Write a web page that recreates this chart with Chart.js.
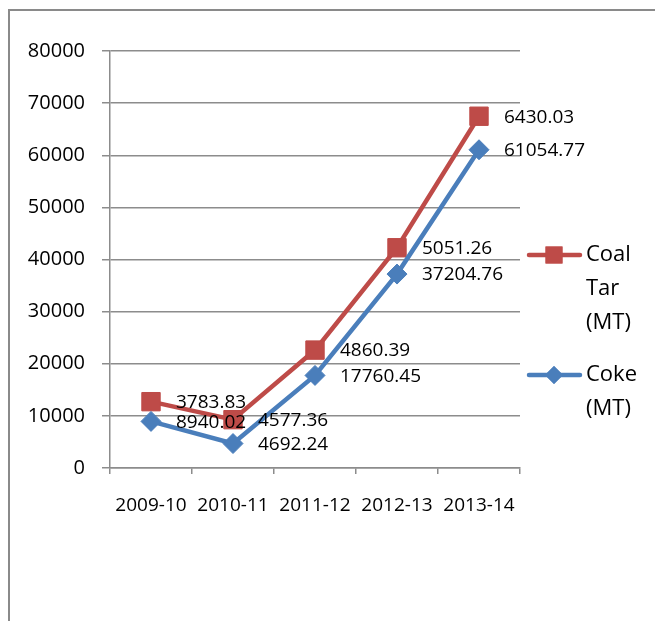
<!DOCTYPE html>
<html>
<head>
<meta charset="utf-8">
<script src="https://cdn.jsdelivr.net/npm/chart.js@4.4.1/dist/chart.umd.min.js"></script>
<style>
  html, body { margin: 0; padding: 0; background: #fff; overflow: hidden; }
  #frame { position: absolute; left: 8px; top: 9px; width: 720px; height: 720px; border: 2px solid #8a8a8a; box-sizing: border-box; }
  #myChart { position: absolute; left: 0; top: 0; }
</style>
</head>
<body>
<div id="frame"></div>
<canvas id="myChart" width="655" height="621"></canvas>
<script>
const years = ['2009-10', '2010-11', '2011-12', '2012-13', '2013-14'];
const coke = [8940.02, 4692.24, 17760.45, 37204.76, 61054.77];
const coalTar = [3783.83, 4577.36, 4860.39, 5051.26, 6430.03];
const yTicks = [0, 10000, 20000, 30000, 40000, 50000, 60000, 70000, 80000];

const FONT = "'Open Sans', 'Noto Sans', sans-serif";
const RED = '#BE4B48';
const BLUE = '#4A7EBB';
const GRID = '#8c8c8c';

// values written to the right of each point
const valueLabels = {
  id: 'valueLabels',
  afterDatasetsDraw(chart) {
    const c = chart.ctx;
    c.save();
    c.font = '19px ' + FONT;
    c.fillStyle = '#000';
    c.textAlign = 'left';
    c.textBaseline = 'middle';
    chart.data.datasets.forEach((ds, i) => {
      chart.getDatasetMeta(i).data.forEach((pt, j) => {
        c.fillText(ds.data[j].toFixed(2), pt.x + 25, pt.y + 1);
      });
    });
    c.restore();
  }
};

// legend on the right, text wrapped word by word like the original
const sideLegend = {
  id: 'sideLegend',
  afterDraw(chart) {
    const c = chart.ctx;
    const order = [1, 0];
    const rows = [255, 375];
    c.save();
    order.forEach((di, k) => {
      const ds = chart.data.datasets[di];
      const y = rows[k];
      c.strokeStyle = ds.borderColor;
      c.lineWidth = 4.5;
      c.lineCap = 'round';
      c.beginPath();
      c.moveTo(529, y);
      c.lineTo(580, y);
      c.stroke();
      c.fillStyle = ds.borderColor;
      Chart.helpers.drawPoint(c, {pointStyle: ds.pointStyle, radius: ds.pointStyle === 'rect' ? 12 : 9, borderWidth: 0}, 554, y);
      c.fill();
      c.fillStyle = '#000';
      c.font = '22px ' + FONT;
      c.textAlign = 'left';
      c.textBaseline = 'middle';
      ds.label.split(' ').forEach((w, n) => {
        c.fillText(w, 586, y + n * 34);
      });
    });
    c.restore();
  }
};

new Chart(document.getElementById('myChart'), {
  type: 'line',
  data: {
    labels: years,
    datasets: [{
      label: 'Coke (MT)',
      data: coke,
      borderColor: BLUE,
      backgroundColor: BLUE,
      borderWidth: 4.5,
      pointStyle: 'rectRot',
      pointRadius: 10,
      pointBorderWidth: 1,
      tension: 0
    }, {
      label: 'Coal Tar (MT)',
      data: coalTar,
      borderColor: RED,
      backgroundColor: RED,
      borderWidth: 4.5,
      pointStyle: 'rect',
      pointRadius: 13,
      pointBorderWidth: 1,
      tension: 0
    }]
  },
  plugins: [valueLabels, sideLegend],
  options: {
    responsive: false,
    animation: false,
    layout: { padding: { left: 0, right: 135, top: 51, bottom: 0 } },
    plugins: { legend: { display: false }, tooltip: { enabled: false } },
    scales: {
      x: {
        offset: true,
        grid: { display: true, drawOnChartArea: false, offset: true, tickLength: 6, color: GRID, lineWidth: 1.5 },
        border: { color: GRID, width: 1.5 },
        ticks: { color: '#000', font: { size: 19, family: FONT }, padding: 20, maxRotation: 0 },
        afterFit(s) { s.height = 153; }
      },
      y: {
        stacked: true,
        min: yTicks[0],
        max: yTicks[yTicks.length - 1],
        afterBuildTicks(s) { s.ticks = yTicks.map(v => ({ value: v })); },
        grid: { color: GRID, lineWidth: 1.5, tickLength: 8 },
        border: { color: GRID, width: 1.5 },
        ticks: { color: '#000', font: { size: 20, family: FONT }, padding: 17, callback: v => String(v) },
        afterFit(s) { s.width = 110; }
      }
    }
  }
});
</script>
</body>
</html>
